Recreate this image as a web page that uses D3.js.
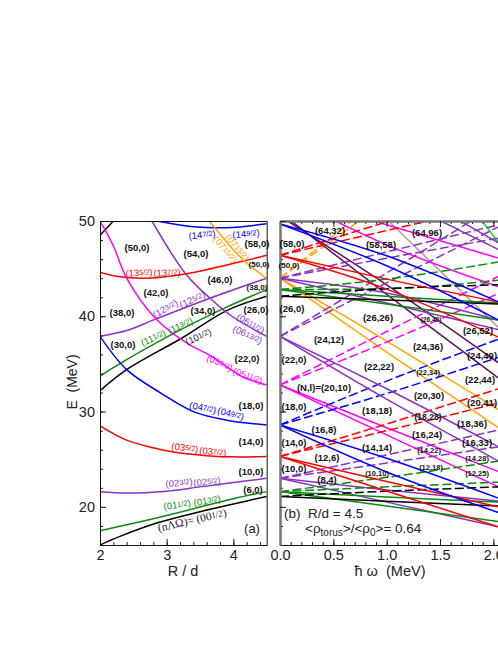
<!DOCTYPE html>
<html>
<head>
<meta charset="utf-8">
<script src="https://cdn.jsdelivr.net/npm/d3@7"></script>
<style>
  html, body { margin: 0; padding: 0; background: #fff; overflow: hidden; }
  svg { display: block; font-family: "Liberation Sans", Arial, sans-serif; }
  .tick text { font-size: 14.5px; fill: #222; }
</style>
</head>
<body>
<div id="chart"></div>
<script>
// left panel: single particle levels vs R/d, each curve is a list of [R/d, E]
var curveBlack = [
  [[2, 16], [2.3, 16.9], [2.85, 18.3], [3.5, 19.5], [4, 20.3], [4.5, 21.1]],
  [[2, 32.2], [2.4, 34.4], [3.25, 37.8], [3.9, 40.6], [4.5, 42.1]],
  [[2, 48.5], [2.2, 50]]
];
var curveGreen = [
  [[2, 17.5], [3, 19.1], [4, 20.85], [4.5, 21.6]],
  [[2, 33.7], [2.15, 34.4], [3.05, 38], [3.85, 40.8], [4.5, 42.8]]
];
var curvePurple = [
  [[2, 21.6], [2.4, 21.45], [3, 21.65], [3.5, 22.1], [4, 22.55], [4.5, 23]],
  [[2, 37.9], [2.4, 38.5], [2.83, 39.7], [3.65, 41.9], [4.5, 44]],
  [[2.78, 50], [3.28, 44.5], [3.65, 41.9], [4, 39.9], [4.5, 37.9]]
];
var curveRed = [
  [[2, 28.5], [2.4, 27], [2.8, 26.2], [3.1, 25.75], [3.65, 25.35], [4, 25.25], [4.5, 25.3]],
  [[2, 44.6], [2.3, 44.15], [2.65, 44], [3.28, 44.45], [4.15, 45.8], [4.5, 46.4]]
];
var curveBlue = [
  [[2, 37.9], [2.4, 34.4], [2.9, 32], [3.4, 30], [3.9, 29.1], [4.5, 28.6]],
  [[2.85, 50], [3.4, 49.4], [3.9, 49.3], [4.5, 49.7]]
];
var curveMagenta = [
  [[2, 50], [2.2, 47.4], [2.4, 44], [2.83, 39.8], [3.3, 37.2], [3.65, 35.9], [4.15, 33.6], [4.5, 32.8]]
];
var curveOrange = [
  [[3.64, 50], [4.15, 45.9], [4.5, 44]]
];

// right panel: E at these rotation frequencies, for each level
var omega = [0, 1, 2.05];
var solidBlack = [[21.1, 20.6, 20.1], [42.1, 41.7, 41.3]];
var dashedBlack = [[21.1, 21.64, 22.1], [42.1, 42.9, 43.3]];
var solidGreen = [
  [21.6, 21.05, 20.5], [21.6, 20.1, 18.45],
  [42.8, 42.1, 41.4], [42.8, 41.3, 39.6]
];
var dashedGreen = [
  [21.6, 23.1, 24.8], [21.6, 22.1, 22.6],
  [42.8, 43.9, 45.7], [42.8, 42.9, 43.8]
];
var solidPurple = [
  [23, 21.77, 20.6], [23, 20.5, 17.9],
  [37.9, 32.4, 26.3], [37.9, 31.3, 24.8],
  [44, 42.45, 39.6], [44, 41.4, 38.6],
  [58.4, 52.8, 47], [60.6, 54.4, 47.7]
];
var dashedPurple = [
  [23, 25.45, 28.07], [23, 24.6, 26.3],
  [37.9, 44.55, 51.8], [37.9, 43.5, 49.4],
  [44, 46.75, 49.6], [44, 46.1, 48.2]
];
var solidRed = [
  [25.3, 22.66, 20], [25.3, 21.67, 17.9],
  [46.4, 43.9, 41.5], [46.4, 42.85, 37.8]
];
var dashedRed = [
  [25.3, 28.7, 32.4], [25.3, 28, 30.9],
  [46.4, 49.9, 53.4], [46.4, 49, 51.7]
];
var solidBlue = [
  [28.6, 25.1, 20.9], [28.6, 23.66, 19.4],
  [49.7, 46.35, 41.5], [49.7, 45.3, 39.6]
];
var dashedBlue = [[28.6, 33.2, 37.6], [28.6, 31.9, 35.7]];
var solidMagenta = [
  [32.8, 28.3, 23.7], [32.8, 27.55, 22.1],
  [52.9, 49.6, 46.1], [52.9, 47.5, 43.1]
];
var dashedMagenta = [[32.8, 38.4, 44.2], [32.8, 37.3, 42.4]];
var solidOrange = [[44, 37.4, 30.2], [44, 36.25, 28.3]];
var dashedOrange = [[44, 52.9, 62.2], [44, 52.1, 60.6]];
var solidMaroon = [[50.5, 43.3, 35.1], [50.9, 42.3, 33.5]];
var solidTan = [[61, 50.2, 38.8]];
var solidLime = [[78, 63.3, 47.7]];

var colors = {
  black: "#000", green: "#0a8a0a", purple: "#8a32c4", red: "#f00", blue: "#00f",
  magenta: "#f0f", orange: "#ffa500", maroon: "#5c1460", tan: "#bb9a90", lime: "#00e800"
};

var width = 498, height = 645;
var svg = d3.select("#chart").append("svg")
  .attr("width", width)
  .attr("height", height);

var yScale = d3.scaleLinear().domain([16, 50]).range([545, 221]);
var xLeft = d3.scaleLinear().domain([2, 4.5]).range([100, 266.67]);
var xRight = d3.scaleLinear().domain([0, 2.1]).range([280, 504]);

svg.append("clipPath").attr("id", "clip-a").append("rect")
  .attr("x", 100).attr("y", 221).attr("width", 166.67).attr("height", 324);
svg.append("clipPath").attr("id", "clip-b").append("rect")
  .attr("x", 280).attr("y", 221).attr("width", 224).attr("height", 324);

var panelA = svg.append("g").attr("clip-path", "url(#clip-a)");
var panelB = svg.append("g").attr("clip-path", "url(#clip-b)");

var leftLine = d3.line()
  .x(function(d) { return xLeft(d[0]); })
  .y(function(d) { return yScale(d[1]); })
  .curve(d3.curveCatmullRom.alpha(0.5));

function drawCurves(list, color) {
  panelA.selectAll(null)
    .data(list)
    .enter()
    .append("path")
    .attr("d", leftLine)
    .attr("fill", "none")
    .attr("stroke", color)
    .attr("stroke-width", 1.5);
}
drawCurves(curveBlack, colors.black);
drawCurves(curveGreen, colors.green);
drawCurves(curvePurple, colors.purple);
drawCurves(curveRed, colors.red);
drawCurves(curveBlue, colors.blue);
drawCurves(curveMagenta, colors.magenta);
drawCurves(curveOrange, colors.orange);

var rightLine = d3.line()
  .x(function(d, i) { return xRight(omega[i]); })
  .y(function(d) { return yScale(d); })
  .curve(d3.curveMonotoneX);

function drawFan(list, color, dashed) {
  panelB.selectAll(null)
    .data(list)
    .enter()
    .append("path")
    .attr("d", rightLine)
    .attr("fill", "none")
    .attr("stroke", color)
    .attr("stroke-width", 1.5)
    .attr("stroke-dasharray", dashed ? "9,3.5" : null);
}
drawFan(solidTan, colors.tan);
drawFan(solidLime, colors.lime);
drawFan(dashedOrange, colors.orange, true);
drawFan(solidOrange, colors.orange);
drawFan(solidMaroon, colors.maroon);
drawFan(dashedMagenta, colors.magenta, true);
drawFan(solidMagenta, colors.magenta);
drawFan(dashedBlue, colors.blue, true);
drawFan(dashedRed, colors.red, true);
drawFan(dashedPurple, colors.purple, true);
drawFan(solidPurple, colors.purple);
drawFan(dashedGreen, colors.green, true);
drawFan(solidGreen, colors.green);
drawFan(dashedBlack, colors.black, true);
drawFan(solidBlack, colors.black);
drawFan(solidRed, colors.red);
drawFan(solidBlue, colors.blue);

// axes, ticks point inwards
function minorRange(a, b, step) {
  return d3.range(Math.round((b - a) / step) + 1).map(function(i) { return a + i * step; });
}
var yMajor = [20, 30, 40, 50];
var yMinor = minorRange(16, 50, 2);

function addAxis(axis, tx, ty, values, size, labels, stroke) {
  var g = svg.append("g")
    .attr("transform", "translate(" + tx + "," + ty + ")")
    .call(axis.tickValues(values).tickSizeInner(size).tickSizeOuter(0).tickPadding(5)
      .tickFormat(labels ? labels : ""));
  g.selectAll(".domain").attr("stroke", stroke || "#111").attr("stroke-width", stroke ? 2 : 1);
  g.selectAll(".tick line").attr("stroke", "#222");
  return g;
}
// panel a
addAxis(d3.axisBottom(xLeft), 0, 545, minorRange(2, 4.4, 0.2), -3);
addAxis(d3.axisBottom(xLeft), 0, 545, [2, 3, 4], -6, d3.format("d"));
addAxis(d3.axisLeft(yScale), 100, 0, yMinor, -3);
addAxis(d3.axisLeft(yScale), 100, 0, yMajor, -6, d3.format("d"));
addAxis(d3.axisTop(xLeft), 0, 221, [], 0);
addAxis(d3.axisRight(yScale), 266.67, 0, [], 0);
// panel b
addAxis(d3.axisBottom(xRight), 0, 545, minorRange(0, 2.1, 0.1), -3);
addAxis(d3.axisBottom(xRight), 0, 545, [0, 0.5, 1, 1.5, 2], -6, d3.format(".1f"));
addAxis(d3.axisTop(xRight), 0, 221, minorRange(0, 2.1, 0.1), -3, null, "#777");
addAxis(d3.axisTop(xRight), 0, 221, [0, 0.5, 1, 1.5, 2], -6, null, "#777");
addAxis(d3.axisLeft(yScale), 280, 0, yMinor, -3, null, "#777");
addAxis(d3.axisLeft(yScale), 280, 0, yMajor, -6, null, "#777");

// "(13|5/2|)" draws the middle part smaller
function note(str, x, y, color, size, angle, bold) {
  var parts = str.split("|");
  var t = svg.append("text")
    .attr("text-anchor", "middle")
    .attr("dominant-baseline", "central")
    .attr("transform", "translate(" + x + "," + y + ") rotate(" + (angle || 0) + ")")
    .attr("fill", color)
    .attr("font-size", size)
    .attr("font-weight", bold ? "bold" : null);
  t.append("tspan").text(parts[0]);
  if (parts.length > 1) {
    t.append("tspan").attr("font-size", size * 0.78).text(parts[1]);
    t.append("tspan").text(parts[2]);
  }
  return t;
}
function black(str, x, y, size) {
  return note(str, x, y, "#111", size || 9.5, 0, true);
}

// shell labels, panel a
black("(50,0)", 137, 247);
black("(54,0)", 196, 253);
black("(58,0)", 257, 243);
black("(50,0)", 259, 264, 8);
black("(46,0)", 220, 279);
black("(42,0)", 156, 292);
black("(38,0)", 257, 287, 8);
black("(34,0)", 203, 310);
black("(26,0)", 256, 309);
black("(38,0)", 122, 312);
black("(30,0)", 123, 344);
black("(22,0)", 247, 358);
black("(18,0)", 251, 405);
black("(14,0)", 251, 441);
black("(10,0)", 251, 471);
black("(6,0)", 253, 489);
note("(a)", 252, 528, "#222", 13);

note("(14|7/2|)", 202, 234, colors.blue, 9.5, -6);
note("(14|9/2|)", 246, 233, colors.blue, 9.5, -5);
note("(07|13/2|)", 238, 247, colors.orange, 9.5, 50);
note("(07|15/2|)", 226, 249, colors.orange, 9.5, 50);
note("(13|5/2|)", 139, 272, colors.red, 9.5, -3);
note("(13|7/2|)", 167, 272, colors.red, 9.5, -3);
note("(12|3/2|)", 165, 308, colors.purple, 9.5, -30);
note("(12|5/2|)", 192, 299, colors.purple, 9.5, -25);
note("(11|1/2|)", 153, 337, colors.green, 9.5, -25);
note("(11|3/2|)", 180, 325, colors.green, 9.5, -25);
note("(10|1/2|)", 198, 336, "#222", 9.5, -25);
note("(06|11/2|)", 251, 323, colors.purple, 9.5, 30);
note("(06|13/2|)", 248, 334, colors.purple, 9.5, 25);
note("(05|9/2|)", 220, 362, colors.magenta, 9.5, 25);
note("(05|11/2|)", 248, 375, colors.magenta, 9.5, 20);
note("(04|7/2|)", 203, 407, colors.blue, 9.5, 12);
note("(04|9/2|)", 231, 413, colors.blue, 9.5, 15);
note("(03|5/2|)", 185, 447, colors.red, 9.5, 7);
note("(03|7/2|)", 213, 451, colors.red, 9.5, 5);
note("(02|3/2|)", 179, 482, colors.purple, 9.5, -5);
note("(02|5/2|)", 207, 481, colors.purple, 9.5, -5);
note("(01|1/2|)", 177, 504, colors.green, 9.5, -8);
note("(01|3/2|)", 207, 500, colors.green, 9.5, -10);
note("(n\u039b\u03a9)= (00|1/2|)", 192, 520, "#222", 11.5, -13)
  .attr("font-family", "'Liberation Serif', serif");

// shell labels, panel b
black("(64,32)", 330, 230);
black("(58,0)", 292, 243);
black("(50,0)", 289, 265, 8);
black("(26,0)", 292, 308);
black("(58,58)", 381, 244);
black("(64,96)", 427, 232);
black("(26,26)", 378, 317);
black("(24,12)", 329, 339);
black("(22,0)", 294, 359);
black("(22,22)", 379, 366);
black("(24,36)", 428, 346);
black("(26,40)", 431, 319, 6.5);
black("(26,52)", 478, 330);
black("(24,49)", 482, 355);
black("(22,34)", 428, 372, 7.5);
black("(22,44)", 480, 379);
black("(N,l)=(20,10)", 324, 387);
black("(20,30)", 429, 395);
black("(20,41)", 482, 402);
black("(18,0)", 294, 406);
black("(18,18)", 377, 410);
black("(18,28)", 428, 417, 8.5);
black("(18,36)", 472, 423);
black("(16,8)", 324, 429);
black("(16,24)", 427, 434);
black("(16,33)", 477, 442);
black("(14,0)", 294, 442);
black("(14,14)", 377, 447);
black("(12,6)", 327, 457);
black("(14,22)", 429, 450, 7.5);
black("(14,28)", 477, 458, 7.5);
black("(10,0)", 294, 468);
black("(12,18)", 431, 467, 7.5);
black("(12,25)", 477, 473, 7.5);
black("(10,10)", 377, 473, 7.5);
black("(8,4)", 327, 479);

// panel b caption
svg.append("text").attr("x", 284).attr("y", 518).attr("font-size", 13.5).attr("fill", "#222")
  .attr("xml:space", "preserve").text("(b)  R/d = 4.5");
var rho = svg.append("text").attr("x", 305).attr("y", 533).attr("font-size", 13.5).attr("fill", "#222");
rho.append("tspan").text("<\u03c1");
rho.append("tspan").attr("font-size", 10).attr("dy", 3).text("torus");
rho.append("tspan").attr("dy", -3).text(">/<\u03c1");
rho.append("tspan").attr("font-size", 10).attr("dy", 3).text("0");
rho.append("tspan").attr("dy", -3).text(">= 0.64");

// axis titles
svg.append("text").attr("x", 183).attr("y", 576).attr("text-anchor", "middle")
  .attr("font-size", 14.5).attr("fill", "#222").text("R / d");
svg.append("text").attr("x", 390).attr("y", 576).attr("text-anchor", "middle")
  .attr("font-size", 14.5).attr("fill", "#222").attr("xml:space", "preserve").text("\u0127 \u03c9  (MeV)");
svg.append("text").attr("transform", "translate(77,382) rotate(-90)").attr("text-anchor", "middle")
  .attr("font-size", 14).attr("fill", "#222").attr("xml:space", "preserve").text("E  (MeV)");
</script>
</body>
</html>
